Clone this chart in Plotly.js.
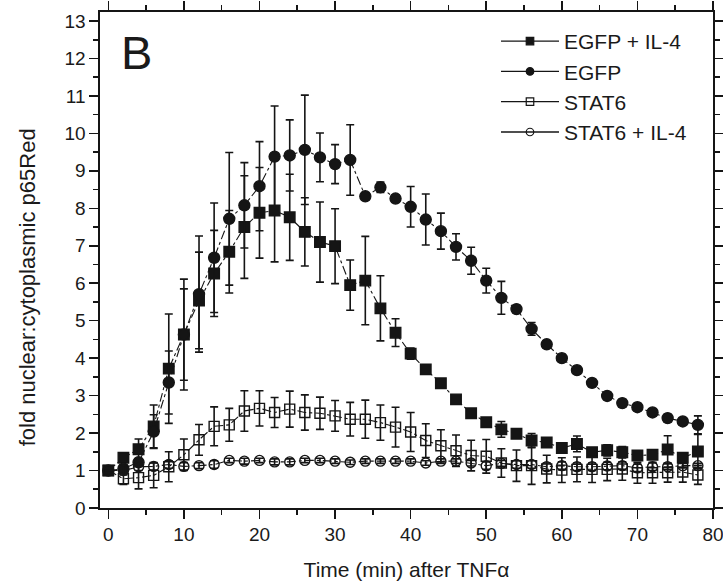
<!DOCTYPE html>
<html>
<head>
<meta charset="utf-8">
<script src="https://cdn.plot.ly/plotly-3.0.1.min.js"></script>
<style>html,body{margin:0;padding:0;background:#fff}#chart{width:723px;height:582px}</style>
</head>
<body>
<div id="chart"></div>
<script>
const time = [0,2,4,6,8,10,12,14,16,18,20,22,24,26,28,30,32,34,36,38,40,42,44,46,48,50,52,54,56,58,60,62,64,66,68,70,72,74,76,78];

const egfpIL4 = [1.0,1.34,1.57,2.18,3.72,4.63,5.54,6.26,6.84,7.5,7.88,7.94,7.76,7.37,7.1,6.99,5.95,6.07,5.33,4.68,4.12,3.7,3.33,2.9,2.53,2.29,2.1,1.98,1.8,1.75,1.6,1.71,1.49,1.54,1.49,1.4,1.42,1.56,1.34,1.51];
const egfpIL4Err = [0,0.1,0.27,0.57,1.46,1.22,1.29,1.15,1.1,1.37,1.21,1.37,1.15,0.91,1.07,1.0,0.67,1.18,0.87,0.37,0.15,0.12,0.1,0.1,0.1,0.1,0.21,0.1,0.19,0.1,0.1,0.21,0.1,0.15,0.15,0.1,0.1,0.37,0.1,0.45];

const egfp = [1.0,1.05,1.22,2.04,3.35,4.63,5.71,6.68,7.72,8.08,8.59,9.38,9.41,9.56,9.36,9.18,9.29,8.32,8.56,8.26,8.04,7.7,7.39,6.97,6.6,6.07,5.61,5.31,4.78,4.37,4.0,3.68,3.34,2.99,2.8,2.69,2.55,2.4,2.31,2.22];
const egfpErr = [0,0.1,0.1,0.45,0.84,1.48,1.55,1.46,1.77,1.14,1.19,1.35,0.95,1.46,0.65,0.52,0.94,0.1,0.14,0.1,0.54,0.68,0.48,0.35,0.36,0.33,0.44,0.1,0.17,0.1,0.1,0.1,0.1,0.1,0.1,0.1,0.1,0.1,0.1,0.24];

const stat6 = [1.0,0.78,0.81,0.87,1.1,1.42,1.82,2.18,2.22,2.59,2.66,2.55,2.64,2.55,2.53,2.46,2.37,2.37,2.28,2.16,2.03,1.8,1.66,1.53,1.4,1.38,1.2,1.13,1.13,1.04,1.01,1.03,1.03,1.03,1.04,0.94,0.94,0.94,0.96,0.88];
const stat6Err = [0,0.15,0.3,0.33,0.4,0.42,0.41,0.52,0.44,0.54,0.47,0.4,0.48,0.47,0.43,0.41,0.45,0.51,0.47,0.53,0.52,0.45,0.43,0.42,0.41,0.45,0.38,0.42,0.5,0.37,0.33,0.33,0.35,0.3,0.3,0.28,0.28,0.25,0.27,0.25];

const stat6IL4 = [1.0,1.0,1.1,1.11,1.16,1.11,1.13,1.16,1.27,1.25,1.27,1.23,1.23,1.27,1.27,1.25,1.22,1.25,1.25,1.25,1.25,1.2,1.25,1.25,1.2,1.13,1.19,1.16,1.16,1.1,1.13,1.1,1.1,1.12,1.13,1.07,1.1,1.1,1.13,1.13];
const stat6IL4Err = [0,0.12,0.1,0.1,0.1,0.1,0.08,0.1,0.06,0.08,0.06,0.08,0.08,0.06,0.06,0.06,0.06,0.06,0.06,0.06,0.06,0.06,0.06,0.06,0.08,0.1,0.08,0.1,0.1,0.1,0.1,0.1,0.1,0.1,0.1,0.1,0.1,0.08,0.06,0.06];

const names = ['EGFP + IL-4','EGFP','STAT6','STAT6 + IL-4'];
const symbols = ['square','circle','square-open','circle-open'];
const series = [egfpIL4, egfp, stat6, stat6IL4];
const errors = [egfpIL4Err, egfpErr, stat6Err, stat6IL4Err];
const markerSizes = [10.5, 11, 10, 10];

const ink = '#151515';
const data = [];
series.forEach((y, i) => {
  data.push({
    x: time, y: y, name: names[i], type: 'scatter', mode: 'lines+markers', showlegend: false,
    line: {color: ink, width: 1.1, dash: 'dashdot'},
    marker: {symbol: symbols[i], size: markerSizes[i], color: ink, line: {color: ink, width: 1.4}},
    error_y: {type: 'data', array: errors[i], visible: true, color: ink, thickness: 1.6, width: 4}
  });
});
// legend entries (solid line with small marker, as in the original key)
names.forEach((n, i) => {
  data.push({
    x: [null], y: [null], name: n, type: 'scatter', mode: 'lines+markers', showlegend: true,
    line: {color: ink, width: 1.3},
    marker: {symbol: symbols[i], size: 7.5, color: ink, line: {color: ink, width: 1.2}}
  });
});

const ff = '"Liberation Sans", Arial, sans-serif';
const f = (s) => ({family: ff, size: s, color: '#1a1a1a'});

const layout = {
  width: 723, height: 582,
  margin: {l: 100, r: 10, t: 12, b: 74},
  paper_bgcolor: '#fff', plot_bgcolor: '#fff',
  font: f(19),
  showlegend: true,
  legend: {x: 0.646, y: 0.982, xanchor: 'left', yanchor: 'top', bgcolor: 'rgba(0,0,0,0)',
           font: f(21), itemwidth: 58, tracegroupgap: 0},
  xaxis: {
    range: [-1.1, 80], tickvals: [0,10,20,30,40,50,60,70,80],
    ticks: 'outside', ticklen: 9, tickwidth: 1.6, tickcolor: ink,
    showline: true, linecolor: ink, linewidth: 1.6, mirror: 'ticks',
    showgrid: false, zeroline: false, ticklabeloverflow: 'allow',
    minor: {dtick: 5, tick0: 0, ticks: 'outside', ticklen: 5, tickwidth: 1.6, tickcolor: ink, showgrid: false},
    tickfont: f(19),
    title: {text: 'Time (min) after TNFα', font: f(21), standoff: 18}
  },
  yaxis: {
    range: [0, 13.24], tickvals: [0,1,2,3,4,5,6,7,8,9,10,11,12,13],
    ticks: 'outside', ticklen: 9, tickwidth: 1.6, tickcolor: ink,
    showline: true, linecolor: ink, linewidth: 1.6, mirror: 'ticks',
    showgrid: false, zeroline: false,
    minor: {dtick: 0.5, tick0: 0, ticks: 'outside', ticklen: 5, tickwidth: 1.6, tickcolor: ink, showgrid: false},
    tickfont: f(19)
  },
  annotations: [
    {text: 'B', xref: 'paper', yref: 'paper', x: 0.031, y: 0.919, xanchor: 'left', yanchor: 'middle',
     showarrow: false, font: f(47)},
    {text: 'fold nuclear:cytoplasmic p65Red', xref: 'paper', yref: 'paper', x: -0.119, y: 0.445,
     xanchor: 'center', yanchor: 'middle', textangle: -90, showarrow: false, font: f(22)}
  ]
};

Plotly.newPlot('chart', data, layout, {displayModeBar: false, staticPlot: true});
</script>
</body>
</html>
